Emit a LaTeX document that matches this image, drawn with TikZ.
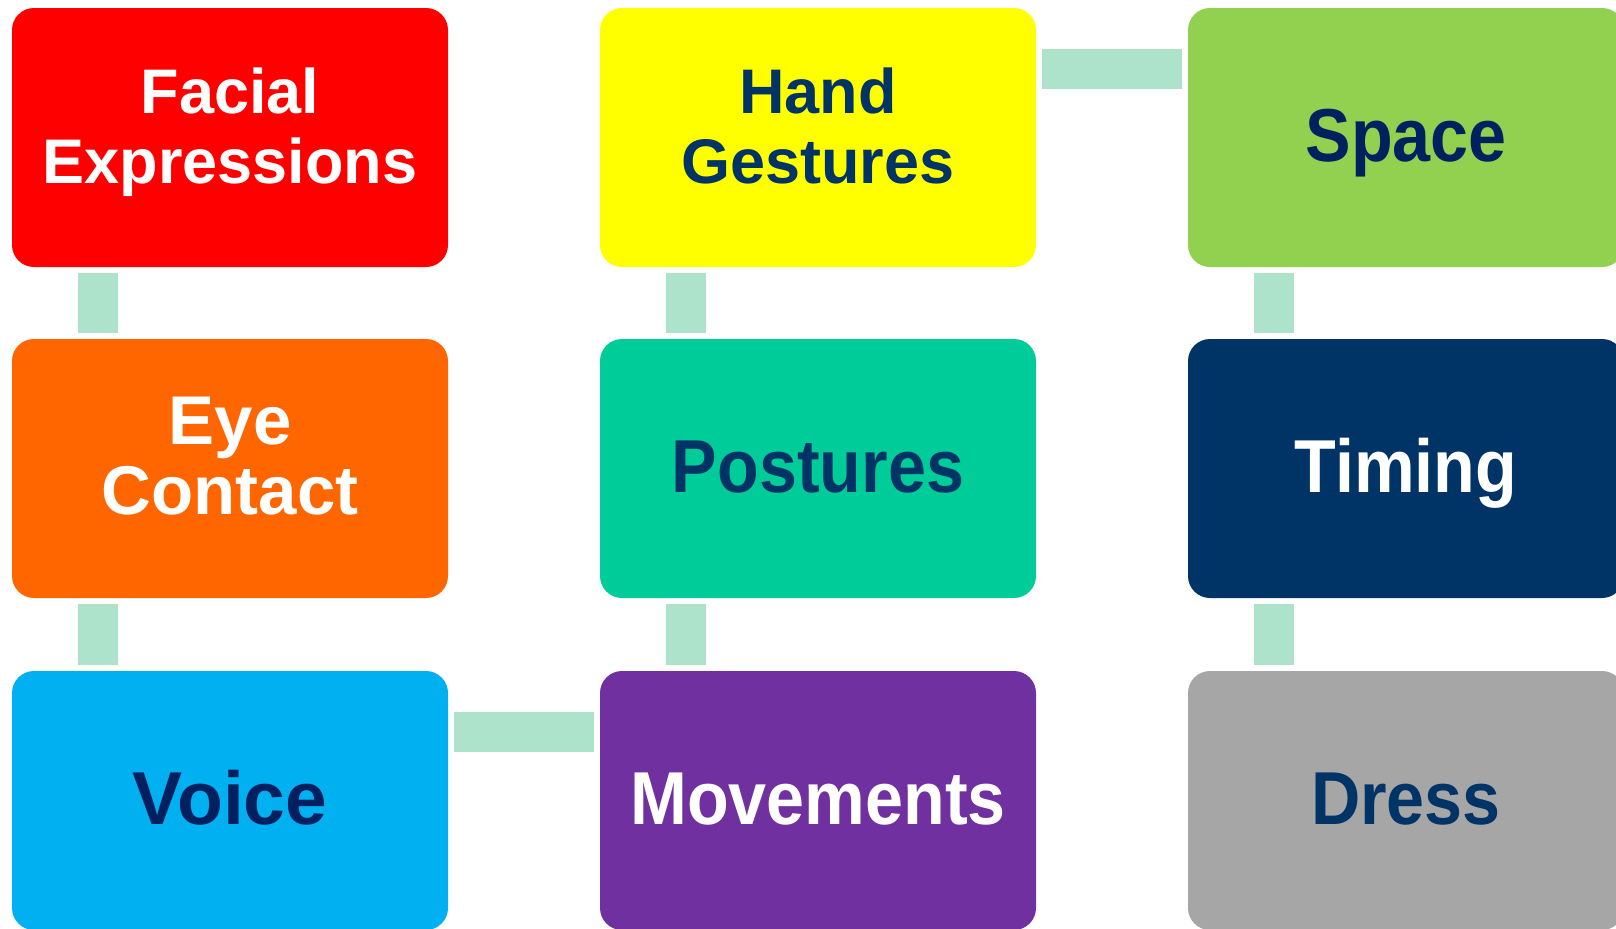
\documentclass[tikz,border=0pt]{standalone}
\usepackage{fontspec}
\setmainfont{Liberation Sans}
\newfontfamily\wordfont{Liberation Sans}[FakeStretch=0.91]
\usetikzlibrary{positioning}
\definecolor{cuered}{RGB}{255,0,0}
\definecolor{cueyellow}{RGB}{255,255,0}
\definecolor{cuelime}{RGB}{146,208,80}
\definecolor{cueorange}{RGB}{255,102,0}
\definecolor{cueteal}{RGB}{0,204,153}
\definecolor{cuenavy}{RGB}{0,51,102}
\definecolor{cuesky}{RGB}{0,176,240}
\definecolor{cuepurple}{RGB}{112,48,160}
\definecolor{cuegrey}{RGB}{166,166,166}
\definecolor{deepblue}{RGB}{0,32,96}
\definecolor{mint}{RGB}{173,227,203}
\tikzset{
  card/.style={rectangle,fill=#1,rounded corners=11pt,minimum width=218pt,
    minimum height=129.5pt,inner sep=0pt,align=center},
  card/.default=cuegrey,
  word/.style={card=#1,font=\wordfont\bfseries\fontsize{37.5}{40}\selectfont,
    text height=26pt,text depth=2.5pt},
  pair/.style={card=#1,font=\bfseries\fontsize{31.5}{35}\selectfont,
    text height=50pt,text depth=4.1pt},
  link/.style={draw=mint,line width=20pt},
}
\begin{document}
\begin{tikzpicture}[x=0.5pt,y=-0.5pt]
  \useasboundingbox (0,0) rectangle (1616,928);
  \clip (0,0) rectangle (1616,928);
  % first column
  \node[pair=cuered,text=white] (fe) at (230,137.5) {Facial\\Expressions};
  \node[pair=cueorange,text=white,font=\bfseries\fontsize{34.5}{35}\selectfont] (ec) at (230,468.5) {Eye\\Contact};
  \node[word=cuesky,text=deepblue,font=\bfseries\fontsize{37.5}{40}\selectfont] (vo) at (230,800.5) {Voice};
  % second column
  \node[pair=cueyellow,text=cuenavy] (hg) at (818,137.5) {Hand\\Gestures};
  \node[word=cueteal,text=cuenavy] (po) at (818,468.5) {Postures};
  \node[word=cuepurple,text=white] (mv) at (818,800.5) {Movements};
  % third column
  \node[word=cuelime,text=deepblue] (sp) at (1406,137.5) {Space};
  \node[word=cuenavy,text=white] (ti) at (1406,468.5) {Timing};
  \node[word=cuegrey,text=cuenavy] (dr) at (1406,800.5) {Dress};
  % links
  \draw[link] ([xshift=-66pt,yshift=-3pt]fe.south) -- ([xshift=-66pt,yshift=3pt]ec.north);
  \draw[link] ([xshift=-66pt,yshift=-3pt]ec.south) -- ([xshift=-66pt,yshift=3pt]vo.north);
  \draw[link] ([xshift=3pt,yshift=34.25pt]vo.east) -- ([xshift=-3pt,yshift=34.25pt]mv.west);
  \draw[link] ([xshift=-66pt,yshift=3pt]mv.north) -- ([xshift=-66pt,yshift=-3pt]po.south);
  \draw[link] ([xshift=-66pt,yshift=3pt]po.north) -- ([xshift=-66pt,yshift=-3pt]hg.south);
  \draw[link] ([xshift=3pt,yshift=34.25pt]hg.east) -- ([xshift=-3pt,yshift=34.25pt]sp.west);
  \draw[link] ([xshift=-66pt,yshift=-3pt]sp.south) -- ([xshift=-66pt,yshift=3pt]ti.north);
  \draw[link] ([xshift=-66pt,yshift=-3pt]ti.south) -- ([xshift=-66pt,yshift=3pt]dr.north);
\end{tikzpicture}
\end{document}
